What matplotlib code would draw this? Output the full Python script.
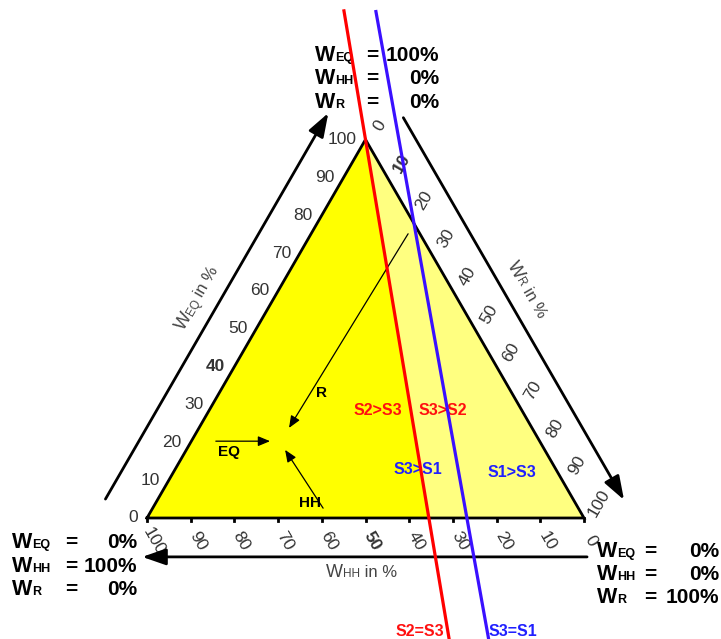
import numpy as np
import matplotlib
matplotlib.use('Agg')
import matplotlib.pyplot as plt
from matplotlib import transforms
from matplotlib.font_manager import FontProperties

plt.rcParams['font.family'] = ['Liberation Sans', 'DejaVu Sans']

#____________________________________________________________
"""Data (ternary points are given as (EQ, HH, R) in %)"""

ticks = [0, 10, 20, 30, 40, 50, 60, 70, 80, 90, 100]
bold_left = 40
bold_bottom = 50
bold_right = 10

# iso-preference lines: two points on the triangle + how far the line runs past them
s2_s3_line = [(100, 0, 0), (0, 35.5, 64.5)]
s2_s3_extent = (-0.34, 1.32)
s3_s1_line = [(77.8, 0, 22.2), (0, 26.8, 73.2)]
s3_s1_extent = (-0.72, 1.41)

# thin direction arrows (start, end)
arrow_R = [(75.1, 2.7, 22.2), (23.8, 55.6, 20.6)]
arrow_EQ = [(20.3, 74.1, 5.6), (20.3, 61.7, 18.0)]
arrow_HH = [(2.6, 58.4, 39.0), (18.0, 59.4, 22.6)]

corner_top = [('EQ', '100%'), ('HH', '0%'), ('R', '0%')]
corner_left = [('EQ', '0%'), ('HH', '100%'), ('R', '0%')]
corner_right = [('EQ', '0%'), ('HH', '0%'), ('R', '100%')]

#____________________________________________________________

SQ = np.sqrt(3) / 2
PX = 4.37  # pixels per percent


def tern(p):
    eq, hh, r = p
    return np.array([r + eq / 2, eq * SQ])


fig = plt.figure(figsize=(7.21, 6.39), dpi=100)
ax = fig.add_axes([0, 0, 1, 1])
ax.set_xlim(-147 / PX, 574 / PX)
ax.set_ylim(-121 / PX, 518 / PX)
ax.axis('off')
renderer = fig.canvas.get_renderer()

left = tern((0, 100, 0))
right = tern((0, 0, 100))
top = tern((100, 0, 0))


def text_parts(x, y, parts, rot=0, center=False, color='k', weight='normal', zorder=5):
    """draw pieces of text with different sizes one after another"""
    widths = []
    for s, sz in parts:
        fp = FontProperties(family=['Liberation Sans'], size=sz, weight=weight)
        widths.append(renderer.get_text_width_height_descent(s, fp, ismath=False)[0])
    off = -sum(widths) / 2 if center else 0
    c, s_ = np.cos(np.radians(rot)), np.sin(np.radians(rot))
    for (s, sz), w in zip(parts, widths):
        tr = transforms.offset_copy(ax.transData, fig=fig, x=off * c, y=off * s_, units='dots')
        ax.text(x, y, s, transform=tr, fontsize=sz, rotation=rot, rotation_mode='anchor',
                ha='left', va='baseline', color=color, fontweight=weight, zorder=zorder)
        off += w


# triangle fill split by the S2=S3 line
b23 = tern(s2_s3_line[1])
ax.fill([left[0], top[0], b23[0]], [left[1], top[1], b23[1]], color='#ffff00', lw=0, zorder=1)
ax.fill([top[0], right[0], b23[0]], [top[1], right[1], b23[1]], color='#ffff80', lw=0, zorder=1)
ax.plot([left[0], right[0], top[0], left[0]], [left[1], right[1], top[1], left[1]],
        color='k', lw=2, zorder=4, solid_joinstyle='miter')

# small ticks under the bottom edge
for k in ticks:
    x = tern((0, 100 - k, k))[0]
    ax.plot([x, x], [0, -0.8], color='k', lw=2, zorder=4)

# tick labels
for k in ticks:
    p = tern((k, 100 - k, 0))
    ax.text(p[0] - 9 / PX, p[1], str(k), ha='right', va='center', fontsize=12.5, color='#333333',
            fontweight='bold' if k == bold_left else 'normal')
    p = tern((0, k, 100 - k))
    ax.text(p[0] + 7 / PX, p[1] - 23 / PX, str(k), ha='center', va='center', fontsize=12.5,
            color='#333333', rotation=-60, rotation_mode='anchor',
            fontweight='bold' if k == bold_bottom else 'normal')
    p = tern((100 - k, 0, k))
    nrm = np.array([SQ, 0.5])
    tng = np.array([0.5, -SQ])
    q = p + nrm * 20 / PX - tng * 5 / PX
    ax.text(q[0], q[1], str(k), ha='center', va='center', fontsize=12.5, color='#333333',
            rotation=60, rotation_mode='anchor',
            fontweight='bold' if k == bold_right else 'normal')

# outer axis arrows
arw = dict(arrowstyle='-|>,head_length=0.72,head_width=0.25', color='k', lw=2,
           mutation_scale=20, shrinkA=0, shrinkB=0)
d_left = np.array([0.5, SQ])
n_left = np.array([-SQ, 0.5])
ax.annotate('', xy=left + d_left * 101 + n_left * 10.4, xytext=left + d_left * -1 + n_left * 10.4,
            arrowprops=arw)
d_right = np.array([0.5, -SQ])
n_right = np.array([SQ, 0.5])
ax.annotate('', xy=top + d_right * 101 + n_right * 10.0, xytext=top + n_right * 10.0,
            arrowprops=arw)
ax.annotate('', xy=(-1.1, -8.9), xytext=(100.7, -8.9), arrowprops=arw)

# axis titles
text_parts(12.4, 49.8, [('W', 13), ('EQ', 8.5), (' in %', 12)], rot=60, center=True, color='#444444')
text_parts(86.0, 51.6, [('W', 13), ('R', 8.5), (' in %', 12)], rot=-60, center=True, color='#444444')
text_parts(49.0, -13.5, [('W', 13), ('HH', 8.5), (' in %', 12)], center=True, color='#444444')

# iso lines
for line, ext, col in [(s2_s3_line, s2_s3_extent, '#ff0000'), (s3_s1_line, s3_s1_extent, '#3a10ff')]:
    a, b = tern(line[0]), tern(line[1])
    t = np.array(ext)
    ax.plot(a[0] + t * (b[0] - a[0]), a[1] + t * (b[1] - a[1]), color=col, lw=2.3, zorder=6)

# region labels
red, blue = '#ff1010', '#2020ff'
for s, x, y, c in [('S2>S3', 52.9, 24.5, red), ('S3>S2', 67.7, 24.5, red),
                   ('S3>S1', 62.0, 11.2, blue), ('S1>S3', 83.5, 10.3, blue),
                   ('S2=S3', 62.5, -25.9, red), ('S3=S1', 83.8, -25.9, blue)]:
    ax.text(x, y, s, color=c, fontsize=11.5, fontweight='bold', ha='center', va='center', zorder=3)

# thin arrows
thin = dict(arrowstyle='-|>,head_length=0.72,head_width=0.3', color='k', lw=0.9,
            mutation_scale=10, shrinkA=0, shrinkB=0)
for arr in [arrow_R, arrow_EQ, arrow_HH]:
    ax.annotate('', xy=tern(arr[1]), xytext=tern(arr[0]), arrowprops=thin, zorder=5)
ax.text(40.0, 28.6, 'R', fontsize=11, fontweight='bold', ha='center', va='center')
ax.text(18.8, 15.1, 'EQ', fontsize=11, fontweight='bold', ha='center', va='center')
ax.text(37.3, 3.4, 'HH', fontsize=11, fontweight='bold', ha='center', va='center')


# corner blocks
def corner(rows, x_w, x_eq, x_val, y0, dy):
    for i, (sub, val) in enumerate(rows):
        y = y0 - i * dy
        text_parts(x_w, y, [('W', 15.5), (sub, 9)], weight='bold')
        ax.text(x_eq, y, '=', ha='center', va='baseline', fontsize=15, fontweight='bold')
        ax.text(x_val, y, val, ha='right', va='baseline', fontsize=15, fontweight='bold')


corner(corner_top, (315 - 147) / PX, (372 - 147) / PX, (439 - 147) / PX, (518 - 61) / PX, 23.5 / PX)
corner(corner_left, (12 - 147) / PX, (71 - 147) / PX, (137 - 147) / PX, (518 - 548) / PX, 23.5 / PX)
corner(corner_right, (597 - 147) / PX, (650 - 147) / PX, (719 - 147) / PX, (518 - 557) / PX, 23 / PX)

fig.savefig('out.png', dpi=100)
